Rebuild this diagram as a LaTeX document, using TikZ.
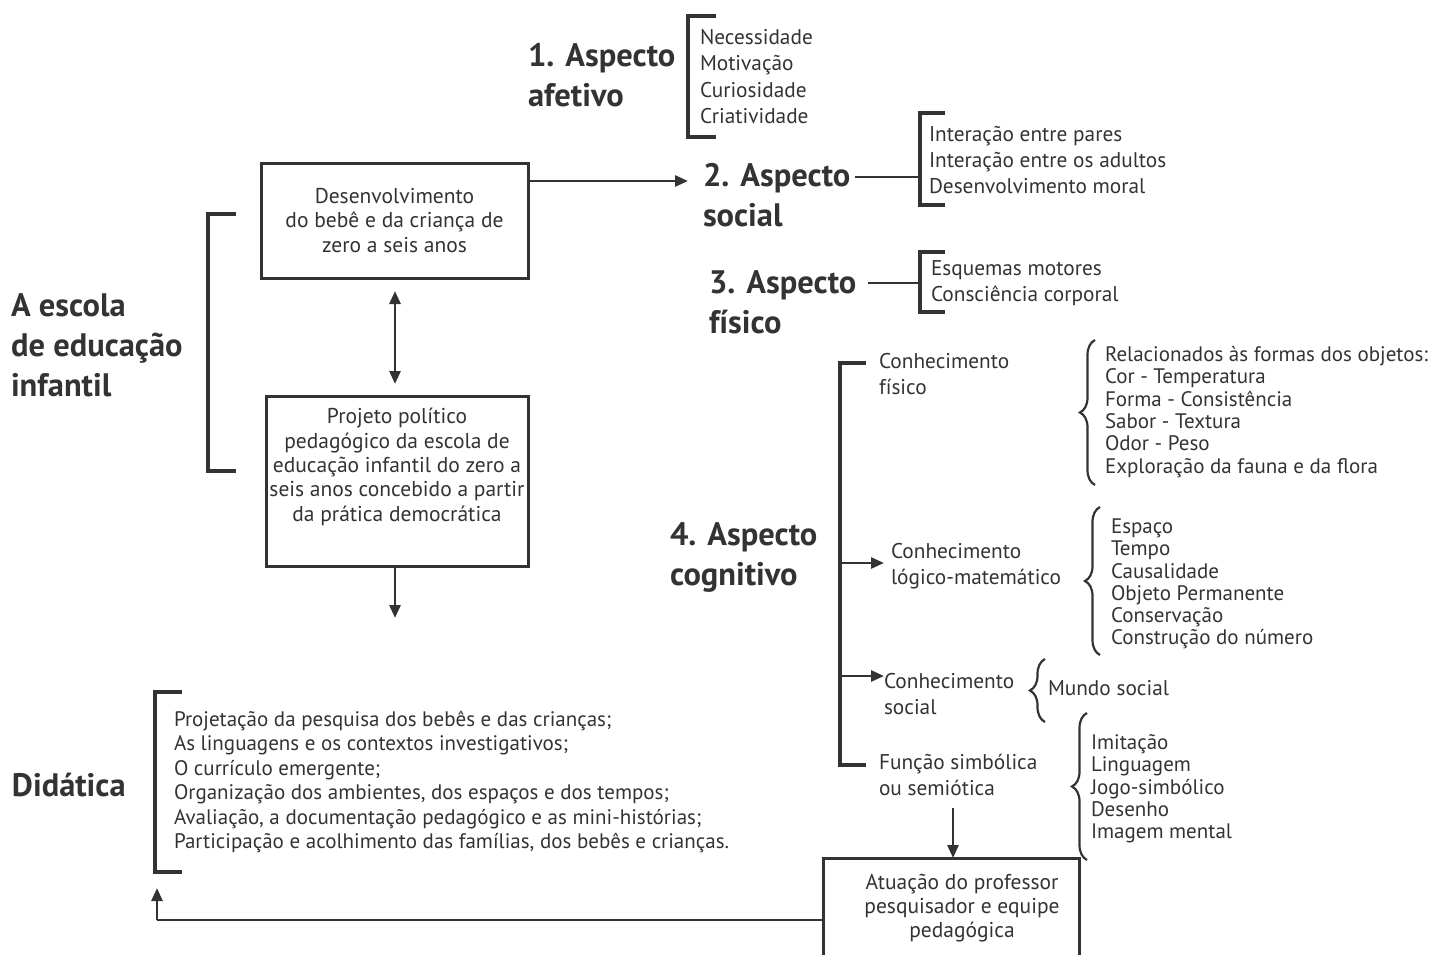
\documentclass[tikz,border=0pt]{standalone}
\usepackage{fontspec}
\setmainfont{PT Sans}
\usetikzlibrary{arrows.meta,decorations.pathreplacing}
\definecolor{ink}{HTML}{333333}
\begin{document}
\begin{tikzpicture}[x=1pt,y=-1pt,
  every node/.style={text=ink, inner sep=0pt, outer sep=0pt},
  title/.style={font=\fontsize{32.5}{40}\selectfont\bfseries, align=left, anchor=west},
  item/.style={font=\fontsize{21.3}{26.4}\selectfont, align=left, anchor=west},
  citem/.style={font=\fontsize{21}{22.3}\selectfont, align=left, anchor=west},
  ditem/.style={font=\fontsize{21}{24.4}\selectfont, align=left, anchor=west},
  btext/.style={font=\fontsize{21.5}{24.3}\selectfont, align=center},
  box/.style={draw=ink, line width=3pt, rectangle},
  brk/.style={draw=ink, line width=4.5pt, line join=miter},
  conn/.style={draw=ink, line width=2.7pt},
  arr/.style={conn, -{Triangle[length=13pt,width=11pt]}},
  darr/.style={conn, {Triangle[length=13pt,width=11pt]}-{Triangle[length=13pt,width=11pt]}},
  brace/.style={draw=ink, line width=2.2pt, decorate, decoration={brace, amplitude=15pt}}
]
\useasboundingbox (0,0) rectangle (1440,955);

% ---- Aspecto afetivo
\node[title] (t1) at (528,75) {1. Aspecto\\afetivo};
\draw[brk] (716,16) -- (688,16) -- (688,137) -- (716,137);
\node[item] (l1) at (700,76.5) {Necessidade\\Motivação\\Curiosidade\\Criatividade};

% ---- Box 1
\node[box, btext, minimum width=267pt, minimum height=115pt] (b1) at (394.5,220.5)
  {Desenvolvimento\\do bebê e da criança de\\zero a seis anos};
\node[title] (t2) at (703,195) {2. Aspecto\\social};
\coordinate (a2) at (688,181);
\draw[arr] (b1.east |- a2) -- (a2);
\draw[brk] (945,113) -- (920,113) -- (920,205) -- (945,205);
\coordinate (c2a) at (855,177);
\coordinate (c2b) at (920,177);
\draw[conn] (c2a) -- (c2b);
\node[item] (l2) at (929,160) {Interação entre pares\\Interação entre os adultos\\Desenvolvimento moral};

% ---- Aspecto físico
\node[title] (t3) at (709,302) {3. Aspecto\\físico};
\draw[brk] (945,252) -- (920,252) -- (920,312) -- (945,312);
\coordinate (c3a) at (868,283);
\coordinate (c3b) at (920,283);
\draw[conn] (c3a) -- (c3b);
\node[item] (l3) at (931,283) {Esquemas motores\\Consciência corporal};

% ---- A escola
\node[title] (te) at (11,345) {A escola\\de educação\\infantil};
\draw[brk] (236,214) -- (208,214) -- (208,471) -- (236,471);

\coordinate (d1) at (395,291);
\coordinate (d2) at (395,384);
\draw[darr] (d1) -- (d2);

% ---- Box 2
\node[box, minimum width=262pt, minimum height=170pt] (b2) at (397,481) {};
\node[btext] (b2t) at (397,467) {Projeto político\\pedagógico da escola de\\educação infantil do zero a\\seis anos concebido a partir\\da prática democrática};
\coordinate (d3) at (395,618);
\draw[arr] (b2.south -| d3) -- (d3);

% ---- Aspecto cognitivo
\node[title] (t4) at (670,557) {4. Aspecto\\cognitivo};
\draw[brk] (866,363) -- (840,363) -- (840,765) -- (866,765);
\coordinate (k1) at (840,563);
\coordinate (k2) at (884,563);
\coordinate (k3) at (840,676);
\coordinate (k4) at (884,676);
\draw[arr] (k1) -- (k2);
\draw[arr] (k3) -- (k4);

\node[item] (cf) at (879,374) {Conhecimento\\físico};
\draw[brace] (1095,485) -- (1095,340);
\node[citem] (lf) at (1105,412) {Relacionados às formas dos objetos:\\Cor - Temperatura\\Forma - Consistência\\Sabor - Textura\\Odor - Peso\\Exploração da fauna e da flora};

\node[item] (cl) at (891,566) {Conhecimento\\lógico-matemático};
\draw[brace] (1100,655) -- (1100,507);
\node[citem] (ll) at (1111,584) {Espaço\\Tempo\\Causalidade\\Objeto Permanente\\Conservação\\Construção do número};

\node[item] (cs) at (884,694) {Conhecimento\\social};
\draw[brace] (1045,722) -- (1045,659);
\node[item] (ls) at (1048,688) {Mundo social};

\node[item] (cfs) at (879,775) {Função simbólica\\ou semiótica};
\draw[brace] (1087,860) -- (1087,713);
\node[citem] (lfs) at (1091,789) {Imitação\\Linguagem\\Jogo-simbólico\\Desenho\\Imagem mental};

% ---- Box 3
\coordinate (e1) at (953,808);
\node[box, minimum width=256pt, minimum height=120pt] (b3) at (951,918) {};
\node[btext] (b3t) at (962,908) {Atuação do professor\\pesquisador e equipe\\pedagógica};
\draw[arr] (e1) -- (e1 |- b3.north);

% ---- Didática
\node[title] (td) at (12,785) {Didática};
\draw[brk] (182,692) -- (155,692) -- (155,872) -- (182,872);
\node[ditem] (ld) at (174,782) {Projetação da pesquisa dos bebês e das crianças;\\As linguagens e os contextos investigativos;\\O currículo emergente;\\Organização dos ambientes, dos espaços e dos tempos;\\Avaliação, a documentação pedagógico e as mini-histórias;\\Participação e acolhimento das famílias, dos bebês e crianças.};
\coordinate (f1) at (157,920);
\coordinate (f2) at (157,888);
\draw[conn] (b3.west |- f1) -- (f1);
\draw[arr] (f1) -- (f2);
\end{tikzpicture}
\end{document}
